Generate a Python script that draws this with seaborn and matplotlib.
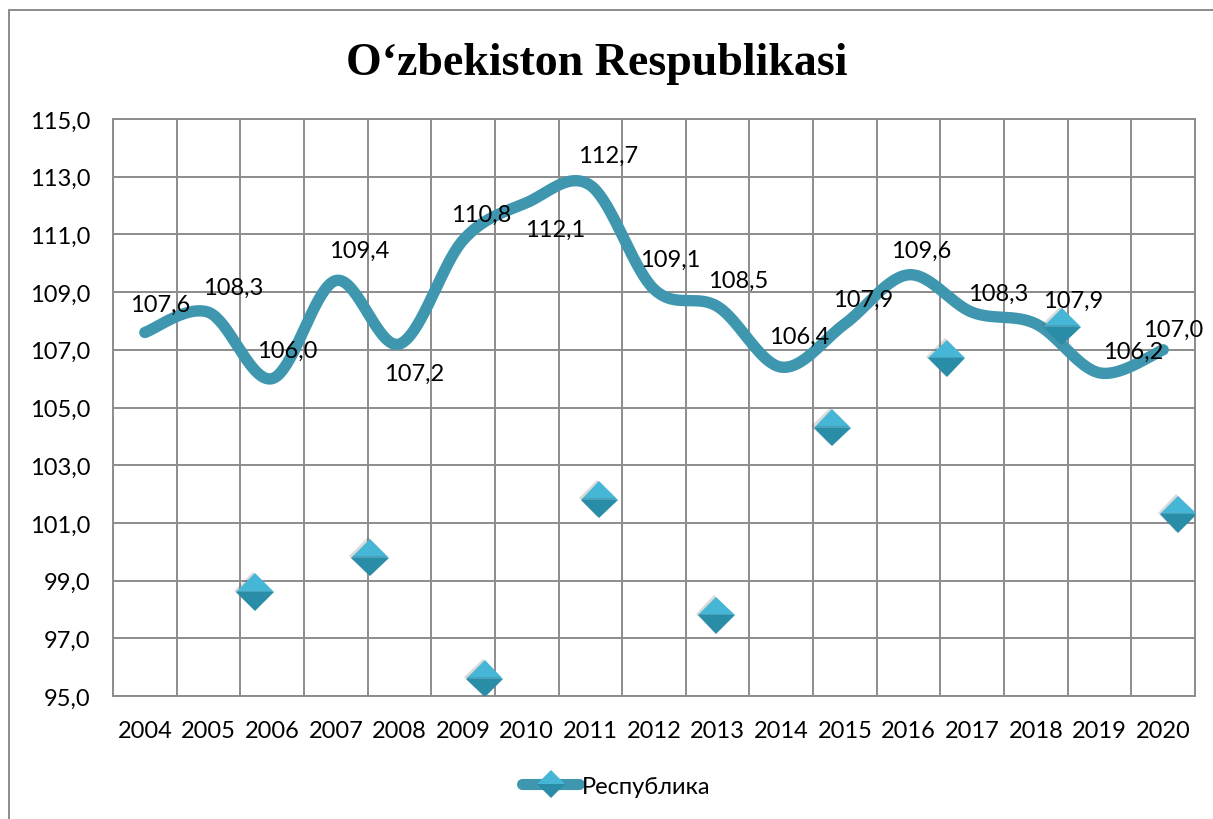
import numpy as np
import pandas as pd
import matplotlib
matplotlib.use("Agg")
import matplotlib.pyplot as plt
import seaborn as sns
from matplotlib.lines import Line2D
from matplotlib.patches import Rectangle
import matplotlib.patheffects as pe

# ---------------- data ----------------
years = ["2004", "2005", "2006", "2007", "2008", "2009", "2010", "2011", "2012",
         "2013", "2014", "2015", "2016", "2017", "2018", "2019", "2020"]
values = [107.6, 108.3, 106.0, 109.4, 107.2, 110.8, 112.1, 112.7, 109.1,
          108.5, 106.4, 107.9, 109.6, 108.3, 107.9, 106.2, 107.0]
# stray diamond markers as they appear in the picture (category-axis position, value)
marker_pos = [1.73, 3.54, 5.34, 7.14, 8.98, 10.80, 12.60, 14.41, 16.24]
marker_val = [98.6, 99.8, 95.6, 101.8, 97.8, 104.3, 106.7, 107.8, 101.3]
yticks = [95, 97, 99, 101, 103, 105, 107, 109, 111, 113, 115]
title = "O‘zbekiston Respublikasi"
series_name = "Республика"
# label offsets in pixels (dx, dy: positive dy = downwards)
label_offsets = [(15, -28), (25, -25), (15, -28), (23, -30), (15, 29), (18, -26),
                 (28, 27), (18, -30), (16, -30), (20, -26), (18, -31), (18, -24),
                 (13, -24), (26, -19), (37, -23), (34, -22), (10, -20)]

LINE = "#3F97AF"
TOP = "#45B6D6"
BOT = "#2A8DA8"
GRID = "#8C8C8C"
FS = 17


def smooth(xs, ys, n=40):
    pts = np.column_stack([xs, ys]).astype(float)
    P = np.vstack([pts[0], pts, pts[-1]])
    out = []
    t = np.linspace(0, 1, n)[:, None]
    for i in range(1, len(P) - 2):
        p0, p1, p2, p3 = P[i - 1], P[i], P[i + 1], P[i + 2]
        c1 = p1 + (p2 - p0) / 6.0
        c2 = p2 - (p3 - p1) / 6.0
        seg = (1 - t) ** 3 * p1 + 3 * (1 - t) ** 2 * t * c1 + 3 * (1 - t) * t ** 2 * c2 + t ** 3 * p2
        out.append(seg if i == 1 else seg[1:])
    return np.vstack(out)


sns.set_theme(style="white")
plt.rcParams["font.family"] = ["Lato", "Open Sans", "DejaVu Sans"]
plt.rcParams["text.color"] = "black"

fig = plt.figure(figsize=(12.13, 8.2), dpi=100)
ax = fig.add_axes([113 / 1213, 1 - 697 / 820, (1195 - 113) / 1213, (697 - 120) / 820])

idx = np.arange(len(years))
curve = smooth(idx, values)
df_curve = pd.DataFrame({"x": curve[:, 0], "y": curve[:, 1]})
sns.lineplot(data=df_curve, x="x", y="y", sort=False, estimator=None, ax=ax,
             color=LINE, linewidth=8.2, solid_capstyle="round", zorder=3)

df_mark = pd.DataFrame({"x": marker_pos, "y": marker_val})
sns.lineplot(data=df_mark, x="x", y="y", sort=False, estimator=None, ax=ax,
             linestyle="", marker="D", markersize=19, fillstyle="top",
             markerfacecolor=TOP, markerfacecoloralt=BOT, markeredgewidth=0,
             color=TOP, zorder=4,
             path_effects=[pe.SimplePatchShadow(offset=(-1.5, 1), shadow_rgbFace="0.35", alpha=0.22),
                           pe.Normal()])

for i, (v, (dx, dy)) in enumerate(zip(values, label_offsets)):
    ax.annotate(f"{v:.1f}".replace(".", ","), (i, v), xytext=(dx * 0.72, -dy * 0.72),
                textcoords="offset points", ha="center", va="center",
                fontsize=FS, color="black", zorder=6)

ax.set_xlim(-0.5, len(years) - 0.5)
ax.set_ylim(95, 115)
ax.set_xticks(np.arange(-0.5, len(years), 1.0))
ax.set_xticklabels([])
ax.set_xticks(idx, minor=True)
ax.set_xticklabels(years, minor=True, fontsize=FS)
ax.set_yticks(yticks)
ax.set_yticklabels([f"{t:.1f}".replace(".", ",") for t in yticks], fontsize=FS)
ax.tick_params(axis="both", which="major", length=6.5, width=1.4, color=GRID,
               direction="out", labelcolor="black")
ax.tick_params(axis="x", which="minor", length=0, pad=17, labelcolor="black")
ax.tick_params(axis="y", which="major", pad=10)
ax.grid(True, which="major", color=GRID, linewidth=1.4)
for s in ax.spines.values():
    s.set_color(GRID)
    s.set_linewidth(1.4)
ax.set_xlabel("")
ax.set_ylabel("")
ax.set_axisbelow(True)

fig.text(597 / 1213, 1 - 64 / 820, title, ha="center", va="center", fontsize=33,
         fontweight="bold", color="black", family=["Liberation Serif", "DejaVu Serif"])

handle = Line2D([], [], color=LINE, linewidth=8, solid_capstyle="round", marker="D",
                markersize=14, fillstyle="top", markerfacecolor=TOP,
                markerfacecoloralt=BOT, markeredgewidth=0)
fig.legend([handle], [series_name], loc="center", bbox_to_anchor=(0.508, 0.04),
           frameon=False, handlelength=2.4, handletextpad=0.1, labelcolor="black",
           prop={"family": ["Lato", "Open Sans", "DejaVu Sans"], "size": FS})

fig.add_artist(Rectangle((9 / 1213, -0.1), 1.2, 1 - 11 / 820 + 0.1, transform=fig.transFigure,
                         fill=False, edgecolor=GRID, linewidth=1.4, clip_on=False))

fig.savefig("out.png", dpi=100)
